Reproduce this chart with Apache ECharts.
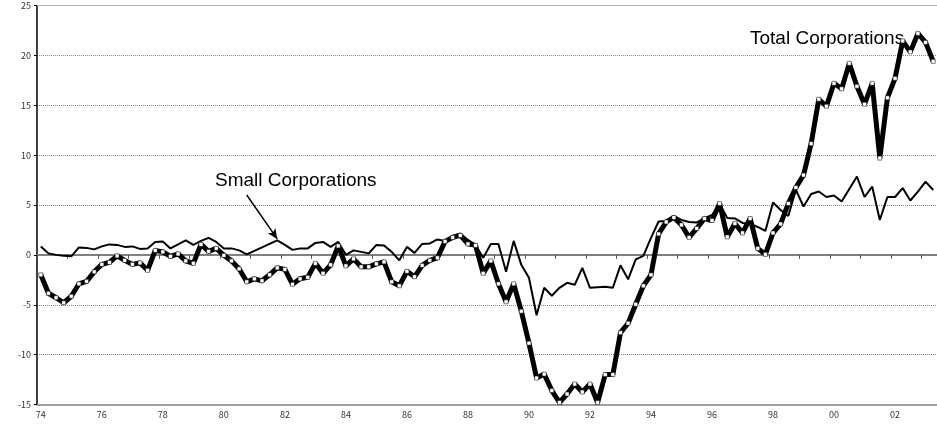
<html>
<head>
    <meta charset="UTF-8">
    <title>Total vs Small Corporations</title>
    <style>
        html, body { margin: 0; padding: 0; background: #fff; }
    </style>
    <script src="https://cdn.jsdelivr.net/npm/echarts@6.0.0/dist/echarts.min.js"></script>
</head>
<body>
<div id="main" style="width: 937px;height:427px;"></div>
<script>
    // quarterly, 1974Q1 - 2003Q2
    var years = ['74','75','76','77','78','79','80','81','82','83','84','85','86','87','88',
                 '89','90','91','92','93','94','95','96','97','98','99','00','01','02','03'];
    var quarters = ['1','2','3','4'];

    var totalCorp = [
        -2.0, -3.85, -4.3, -4.8, -4.15, -2.9, -2.65, -1.7,        // 74-75
        -0.95, -0.75, -0.1, -0.55, -0.95, -0.8, -1.55, 0.45,      // 76-77
        0.3, -0.15, 0.1, -0.6, -0.85, 1.05, 0.35, 0.65,           // 78-79
        -0.05, -0.6, -1.4, -2.7, -2.4, -2.6, -2.0, -1.3,          // 80-81
        -1.45, -2.95, -2.4, -2.25, -0.85, -1.85, -1.0, 0.9,       // 82-83
        -1.1, -0.4, -1.2, -1.2, -0.9, -0.7, -2.7, -3.1,           // 84-85
        -1.65, -2.2, -1.05, -0.55, -0.3, 1.35, 1.75, 1.95,        // 86-87
        1.1, 0.95, -1.85, -0.6, -2.9, -4.7, -2.9, -5.65,          // 88-89
        -8.85, -12.35, -11.95, -13.6, -14.8, -13.95, -12.95, -13.75, // 90-91
        -12.95, -14.8, -12.0, -12.0, -7.8, -6.85, -4.95, -3.1,    // 92-93
        -2.0, 2.1, 3.3, 3.75, 3.0, 1.75, 2.65, 3.65,              // 94-95
        3.45, 5.15, 1.8, 3.15, 2.2, 3.65, 0.65, 0.05,             // 96-97
        2.2, 3.1, 5.15, 6.75, 8.0, 11.15, 15.6, 14.9,             // 98-99
        17.2, 16.65, 19.2, 16.9, 15.1, 17.2, 9.7, 15.75,          // 00-01
        17.7, 21.45, 20.35, 22.2, 21.3, 19.4                      // 02-03
    ];
    var smallCorp = [
        0.85, 0.15, 0.0, -0.1, -0.15, 0.75, 0.7, 0.55,            // 74-75
        0.85, 1.05, 1.0, 0.8, 0.85, 0.6, 0.65, 1.3,               // 76-77
        1.35, 0.65, 1.05, 1.45, 1.0, 1.4, 1.7, 1.3,               // 78-79
        0.65, 0.65, 0.45, 0.05, 0.4, 0.75, 1.1, 1.45,             // 80-81
        1.0, 0.5, 0.65, 0.65, 1.2, 1.3, 0.8, 1.3,                 // 82-83
        0.0, 0.45, 0.3, 0.15, 1.0, 0.95, 0.3, -0.55,              // 84-85
        0.8, 0.2, 1.1, 1.15, 1.55, 1.4, 1.9, 2.15,                // 86-87
        1.5, 1.0, -0.3, 1.1, 1.1, -1.7, 1.4, -1.0,                // 88-89
        -2.3, -6.05, -3.3, -4.1, -3.3, -2.8, -3.0, -1.3,          // 90-91
        -3.3, -3.25, -3.2, -3.3, -1.05, -2.45, -0.45, -0.1,       // 92-93
        1.7, 3.35, 3.4, 3.9, 3.5, 3.3, 3.25, 3.65,                // 94-95
        4.0, 5.1, 3.7, 3.65, 3.2, 3.1, 2.8, 2.4,                  // 96-97
        5.25, 4.5, 3.9, 6.5, 4.85, 6.1, 6.35, 5.8,                // 98-99
        5.95, 5.35, 6.6, 7.85, 5.8, 6.85, 3.5, 5.8,               // 00-01
        5.8, 6.7, 5.45, 6.35, 7.35, 6.5                           // 02-03
    ];

    // category per quarter, label shows the year
    var categories = [];
    years.forEach(function (y) {
        quarters.forEach(function (q) {
            if (categories.length < totalCorp.length) categories.push(y + '/' + q);
        });
    });

    var tickFont = { fontFamily: 'Noto Sans CJK JP', fontSize: 9, color: '#333' };
    var noteFont = '19px "Liberation Sans", Arial, sans-serif';

    var myChart = echarts.init(document.getElementById('main'), null, { renderer: 'canvas' });
    var option = {
        animation: false,
        backgroundColor: '#fff',
        grid: { left: 37, top: 5.5, width: 907, height: 399 },
        xAxis: [
            {
                // zero line with year ticks
                type: 'category',
                data: categories,
                position: 'bottom',
                boundaryGap: true,
                axisLine: { onZero: true, lineStyle: { color: '#808080', width: 2 } },
                axisTick: { show: true, interval: 3, length: 4, lineStyle: { color: '#555', width: 1 } },
                axisLabel: { show: false },
                splitLine: { show: false }
            },
            {
                // bottom labels
                type: 'category',
                data: categories,
                position: 'bottom',
                boundaryGap: true,
                axisLine: { onZero: false, lineStyle: { color: '#a0a0a0', width: 2 } },
                axisTick: { show: false },
                axisLabel: {
                    interval: 7, margin: 6,
                    fontFamily: tickFont.fontFamily, fontSize: tickFont.fontSize, color: tickFont.color,
                    formatter: function (v) { return v.split('/')[0]; }
                },
                splitLine: { show: false }
            },
            {
                type: 'category',
                data: categories,
                position: 'top',
                axisLine: { onZero: false, lineStyle: { color: '#b0b0b0', width: 1 } },
                axisTick: { show: false },
                axisLabel: { show: false }
            }
        ],
        yAxis: {
            type: 'value',
            min: -15,
            max: 25,
            interval: 5,
            axisLine: { show: true, onZero: false, lineStyle: { color: '#000', width: 1.5 } },
            axisTick: { show: true, length: 3, lineStyle: { color: '#000' } },
            axisLabel: {
                margin: 6,
                fontFamily: tickFont.fontFamily, fontSize: tickFont.fontSize, color: tickFont.color
            },
            splitLine: { show: true, lineStyle: { color: '#888', type: [1, 1], width: 1 } }
        },
        series: [
            {
                name: 'Small Corporations',
                type: 'line',
                xAxisIndex: 0,
                data: smallCorp,
                symbol: 'none',
                lineStyle: { color: '#000', width: 2 },
                markLine: {
                    silent: true,
                    symbol: ['none', 'arrow'],
                    symbolSize: [7, 10],
                    label: { show: false },
                    lineStyle: { color: '#000', width: 1.5, type: 'solid' },
                    data: [[{ coord: [27, 6.0] }, { coord: [31, 1.6] }]]
                }
            },
            {
                name: 'Total Corporations',
                type: 'line',
                xAxisIndex: 0,
                data: totalCorp,
                symbol: 'rect',
                symbolSize: 4,
                showAllSymbol: true,
                itemStyle: { color: '#fff', borderColor: '#000', borderWidth: 0.5 },
                lineStyle: { color: '#000', width: 5 }
            }
        ],
        graphic: [
            {
                type: 'text', left: 215, top: 171,
                style: { text: 'Small Corporations', fill: '#000', font: noteFont }
            },
            {
                type: 'text', left: 750, top: 29,
                style: { text: 'Total Corporations', fill: '#000', font: noteFont }
            }
        ]
    };
    myChart.setOption(option);
</script>
</body>
</html>
